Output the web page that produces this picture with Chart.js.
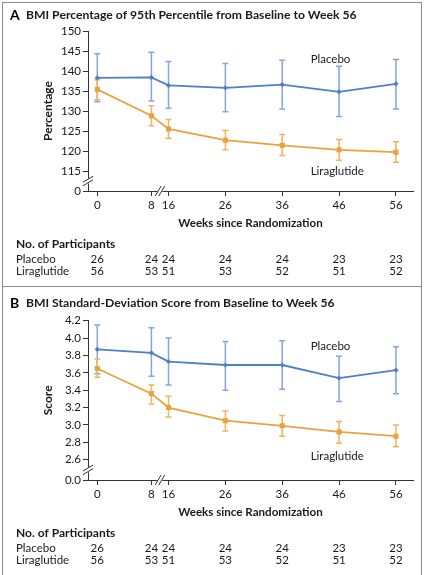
<!DOCTYPE html>
<html>
<head>
<meta charset="utf-8">
<script src="https://cdn.jsdelivr.net/npm/chart.js@4.4.1/dist/chart.umd.min.js"></script>
<style>
html,body{margin:0;padding:0;background:#fff}
#wrap{position:relative;width:424px;height:575px;overflow:hidden;background:#fff}
#frame{position:absolute;left:2px;top:2px;width:420px;height:600px;border:1px solid #8a8a8a;box-sizing:border-box}
#divider{position:absolute;left:2px;top:286px;width:420px;height:1px;background:#8a8a8a}
canvas{position:absolute;left:0}
</style>
</head>
<body>
<div id="wrap">
  <div id="frame"></div>
  <div id="divider"></div>
  <canvas id="chartA" width="424" height="287" style="top:0"></canvas>
  <canvas id="chartB" width="424" height="288" style="top:287px"></canvas>
</div>
<script>
// weeks since randomization (x axis is broken between 8 and 16)
const weeks = [0, 8, 16, 26, 36, 46, 56];
const placeboN = [26, 24, 24, 24, 24, 23, 23];
const liraN = [56, 53, 51, 53, 52, 51, 52];

// panel A: BMI percentage of 95th percentile
const pctPlacebo   = [138.3, 138.4, 136.4, 135.8, 136.6, 134.8, 136.8];
const pctPlaceboLo = [132.3, 132.5, 130.7, 129.8, 130.5, 128.6, 130.5];
const pctPlaceboHi = [144.3, 144.7, 142.4, 141.9, 142.7, 141.2, 142.9];
const pctLira      = [135.4, 128.8, 125.5, 122.7, 121.4, 120.3, 119.7];
const pctLiraLo    = [132.8, 126.3, 123.2, 120.3, 118.9, 117.7, 117.2];
const pctLiraHi    = [137.8, 131.3, 127.9, 125.1, 124.1, 122.9, 122.3];
const pctTicks = [115, 120, 125, 130, 135, 140, 145, 150];

// panel B: BMI standard-deviation score
const sdsPlacebo   = [3.87, 3.83, 3.73, 3.69, 3.69, 3.54, 3.63];
const sdsPlaceboLo = [3.59, 3.56, 3.46, 3.40, 3.41, 3.27, 3.36];
const sdsPlaceboHi = [4.15, 4.12, 4.00, 3.96, 3.97, 3.79, 3.90];
const sdsLira      = [3.65, 3.36, 3.20, 3.05, 2.99, 2.92, 2.87];
const sdsLiraLo    = [3.55, 3.24, 3.09, 2.93, 2.87, 2.79, 2.75];
const sdsLiraHi    = [3.76, 3.46, 3.33, 3.16, 3.11, 3.04, 3.00];
const sdsTicks = [2.6, 2.8, 3.0, 3.2, 3.4, 3.6, 3.8, 4.0, 4.2];

const FONT = 'Lato, "Open Sans", sans-serif';
const BLUE = "#4f7fc4", BLUE_BAR = "#84a6da";
const ORANGE = "#e9a23e", ORANGE_BAR = "#f0b45e";

// compress the first 16 weeks (axis break)
function axisPos(w){ return w >= 16 ? w : 3.47 + w * 1.19; }

function points(vals){ return weeks.map((w,i)=>({x:axisPos(w), y:vals[i]})); }

function breakMark(ctx, x, y, vertical){
  ctx.save();
  ctx.fillStyle = "#fff";
  if(vertical) ctx.fillRect(x-3, y-2.5, 6, 5);
  else ctx.fillRect(x-2.5, y-3, 5, 6);
  ctx.strokeStyle = "#333";
  ctx.lineWidth = 1;
  [-1.8, 1.8].forEach(d=>{
    ctx.beginPath();
    if(vertical){ ctx.moveTo(x-5, y+d+3); ctx.lineTo(x+5, y+d-3); }
    else { ctx.moveTo(x+d-3, y+5); ctx.lineTo(x+d+3, y-5); }
    ctx.stroke();
  });
  ctx.restore();
}

function makePanel(id, p){
  const panelPlugin = {
    id: "panel"+id,
    beforeDatasetsDraw(chart){
      const ctx = chart.ctx, xs = chart.scales.x, ys = chart.scales.y;
      [[p.plLo, p.plHi, BLUE_BAR], [p.liLo, p.liHi, ORANGE_BAR]].forEach(([lo, hi, col])=>{
        ctx.save();
        ctx.strokeStyle = col;
        ctx.lineWidth = 1.5;
        weeks.forEach((w,i)=>{
          const x = xs.getPixelForValue(axisPos(w));
          const y1 = ys.getPixelForValue(lo[i]), y2 = ys.getPixelForValue(hi[i]);
          ctx.beginPath();
          ctx.moveTo(x, y1); ctx.lineTo(x, y2);
          ctx.moveTo(x-3, y1); ctx.lineTo(x+3, y1);
          ctx.moveTo(x-3, y2); ctx.lineTo(x+3, y2);
          ctx.stroke();
        });
        ctx.restore();
      });
    },
    afterDraw(chart){
      const ctx = chart.ctx, xs = chart.scales.x, ys = chart.scales.y, a = chart.chartArea;
      ctx.save();
      ctx.textBaseline = "middle";
      // title
      ctx.fillStyle = "#000";
      ctx.font = "bold 14px " + FONT;
      ctx.textAlign = "left";
      ctx.fillText(p.letter, 10, p.titleY);
      ctx.fillStyle = "#1a1a1a";
      ctx.font = "bold 12.2px " + FONT;
      ctx.fillText(p.title, 26, p.titleY);

      // y title
      ctx.save();
      ctx.translate(48, (a.top + a.bottom)/2);
      ctx.rotate(-Math.PI/2);
      ctx.textAlign = "center";
      ctx.font = "bold 12px " + FONT;
      ctx.fillText(p.yTitle, 0, 0);
      ctx.restore();

      // x title
      ctx.textAlign = "center";
      ctx.font = "bold 11.6px " + FONT;
      ctx.fillText("Weeks since Randomization", (a.left + a.right)/2, a.bottom + 32.5);

      // series labels
      ctx.font = "11.5px " + FONT;
      ctx.textAlign = "left";
      ctx.fillText("Placebo", xs.getPixelForValue(41), ys.getPixelForValue(p.plLabelY));
      ctx.fillText("Liraglutide", xs.getPixelForValue(41), ys.getPixelForValue(p.liLabelY));

      // participants table
      ctx.font = "bold 12px " + FONT;
      ctx.fillText("No. of Participants", 16, a.bottom + 52.8);
      ctx.font = "11.5px " + FONT;
      ctx.fillText("Placebo", 16, a.bottom + 68);
      ctx.fillText("Liraglutide", 16, a.bottom + 80.5);
      ctx.textAlign = "center";
      weeks.forEach((w,i)=>{
        const x = xs.getPixelForValue(axisPos(w));
        ctx.fillText(String(placeboN[i]), x, a.bottom + 68);
        ctx.fillText(String(liraN[i]), x, a.bottom + 80.5);
      });
      ctx.restore();

      // axis breaks
      breakMark(ctx, a.left, ys.getPixelForValue((p.yMin + p.yTicks[0])/2), true);
      breakMark(ctx, xs.getPixelForValue((axisPos(8) + axisPos(16))/2), a.bottom, false);
    }
  };

  return new Chart(document.getElementById(id), {
    type: "line",
    data: {
      datasets: [
        {
          label: "Liraglutide",
          data: points(p.li),
          borderColor: ORANGE,
          backgroundColor: ORANGE,
          borderWidth: 1.8,
          pointStyle: "rect",
          pointRadius: 3.6,
          pointBorderWidth: 0,
          tension: 0,
          order: 0
        },
        {
          label: "Placebo",
          data: points(p.pl),
          borderColor: BLUE,
          backgroundColor: BLUE,
          borderWidth: 1.8,
          pointStyle: "rectRot",
          pointRadius: 2.6,
          pointBorderWidth: 0,
          tension: 0,
          order: 1
        }
      ]
    },
    options: {
      responsive: false,
      animation: false,
      events: [],
      layout: {padding: {left: 0, right: 11, top: p.top, bottom: p.bottomPad}},
      plugins: {legend: {display: false}, tooltip: {enabled: false}},
      scales: {
        x: {
          type: "linear",
          min: 1.84,
          max: 59,
          afterBuildTicks: s => { s.ticks = weeks.map(w => ({value: axisPos(w)})); },
          afterFit: s => { s.height = 22; },
          ticks: {
            autoSkip: false, maxRotation: 0, padding: 2,
            color: "#1a1a1a", font: {family: FONT, size: 11.5},
            callback: (v, i) => String(weeks[i])
          },
          grid: {drawOnChartArea: false, tickLength: 5, color: "#333"},
          border: {color: "#333", width: 1}
        },
        y: {
          min: p.yMin,
          max: p.yMax,
          afterBuildTicks: s => { s.ticks = [p.yMin].concat(p.yTicks).map(v => ({value: v})); },
          afterFit: s => { s.width = 88; },
          ticks: {
            autoSkip: false, padding: 2,
            color: "#1a1a1a", font: {family: FONT, size: 11.5},
            callback: v => v === p.yMin ? p.zeroLabel : (p.dec ? v.toFixed(p.dec) : String(v))
          },
          grid: {drawOnChartArea: false, tickLength: 5, color: "#333"},
          border: {color: "#333", width: 1}
        }
      }
    },
    plugins: [panelPlugin]
  });
}

makePanel("chartA", {
  letter: "A", title: "BMI Percentage of 95th Percentile from Baseline to Week 56", titleY: 15,
  yTitle: "Percentage", top: 31, bottomPad: 287 - 191 - 22,
  yMin: 110, yMax: 150, yTicks: pctTicks, zeroLabel: "0", dec: 0,
  pl: pctPlacebo, plLo: pctPlaceboLo, plHi: pctPlaceboHi,
  li: pctLira, liLo: pctLiraLo, liHi: pctLiraHi,
  plLabelY: 143, liLabelY: 115
});

makePanel("chartB", {
  letter: "B", title: "BMI Standard-Deviation Score from Baseline to Week 56", titleY: 16,
  yTitle: "Score", top: 33.7, bottomPad: 288 - 193 - 22,
  yMin: 2.366, yMax: 4.2, yTicks: sdsTicks, zeroLabel: "0.0", dec: 1,
  pl: sdsPlacebo, plLo: sdsPlaceboLo, plHi: sdsPlaceboHi,
  li: sdsLira, liLo: sdsLiraLo, liHi: sdsLiraHi,
  plLabelY: 3.90, liLabelY: 2.635
});
</script>
</body>
</html>
